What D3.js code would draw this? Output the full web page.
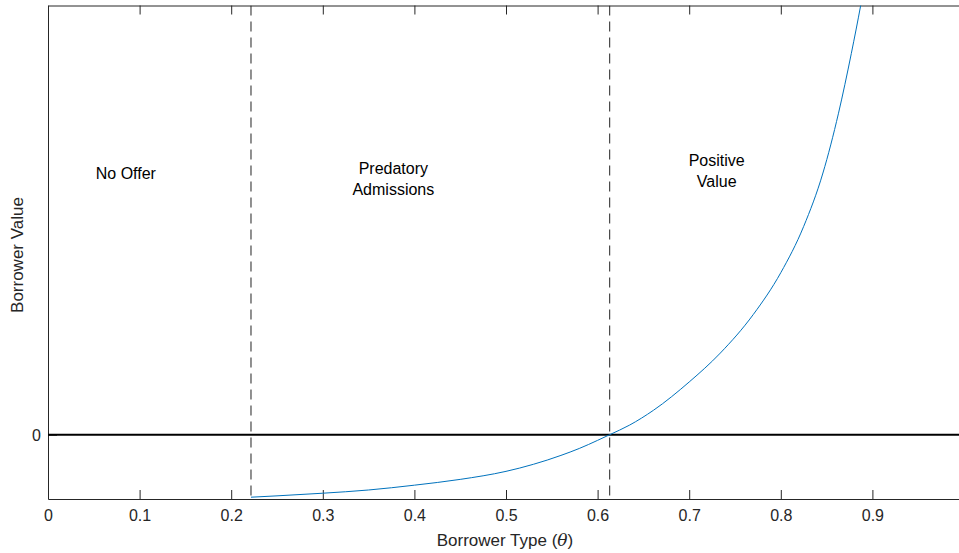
<!DOCTYPE html>
<html>
<head>
<meta charset="utf-8">
<script src="https://cdn.jsdelivr.net/npm/d3@7"></script>
<style>
  body { margin: 0; background: #fff; }
  svg { display: block; font-family: "Liberation Sans", Arial, Helvetica, sans-serif; }
</style>
</head>
<body>
<div id="chart"></div>
<script>
// borrower value curve
var theta = [0.2216, 0.25, 0.30, 0.35, 0.40, 0.45, 0.50, 0.53, 0.56, 0.58, 0.60, 0.6132,
             0.635, 0.661, 0.70, 0.734, 0.77, 0.80, 0.825, 0.846, 0.863, 0.877, 0.8872, 0.892];
var value = [-0.972, -0.951, -0.910, -0.860, -0.785, -0.695, -0.570, -0.460, -0.322, -0.214, -0.088, 0,
             0.150, 0.380, 0.820, 1.270, 1.870, 2.520, 3.240, 4.070, 5.000, 5.930, 6.675, 7.05];

var cutoffs = [0.2216, 0.6132];
var xTicks = [0, 0.1, 0.2, 0.3, 0.4, 0.5, 0.6, 0.7, 0.8, 0.9];
var yTicks = [0];
var regionLabels = [
  {x: 0.085, lines: ["No Offer"], y: 3.98},
  {x: 0.377, lines: ["Predatory", "Admissions"], y: 4.06},
  {x: 0.73, lines: ["Positive", "Value"], y: 4.18}
];

var W = 959, H = 553;
var plotLeft = 48, plotTop = 5.5, plotBottom = 499;

var x = d3.scaleLinear().domain([0, 1]).range([plotLeft, plotLeft + 916]);
var y = d3.scaleLinear().domain([-1, 6.675]).range([plotBottom, plotTop]);

var svg = d3.select("#chart").append("svg")
  .attr("width", W).attr("height", H);

svg.append("defs").append("clipPath").attr("id", "plot")
  .append("rect").attr("x", plotLeft).attr("y", plotTop)
  .attr("width", x(1) - plotLeft).attr("height", plotBottom - plotTop);

var axisColor = "#262626";

// x axis bottom
var xAxis = d3.axisBottom(x).tickValues(xTicks).tickSizeInner(-9).tickSizeOuter(0)
  .tickPadding(11).tickFormat(function(d) { return d === 0 ? "0" : d3.format(".1f")(d); });
var gx = svg.append("g").attr("transform", "translate(0," + plotBottom + ")").call(xAxis);

// x axis top (mirror ticks)
var gxt = svg.append("g").attr("transform", "translate(0," + plotTop + ")")
  .call(d3.axisTop(x).tickValues(xTicks).tickSizeInner(-9).tickSizeOuter(0).tickFormat(""));

// y axis
var gy = svg.append("g").attr("transform", "translate(" + plotLeft + ",0)")
  .call(d3.axisLeft(y).tickValues(yTicks).tickSizeInner(-9).tickSizeOuter(0).tickPadding(7));

[gx, gxt, gy].forEach(function(g) {
  g.select(".domain").attr("stroke", axisColor).attr("stroke-width", 1);
  g.selectAll(".tick line").attr("stroke", axisColor).attr("stroke-width", 1);
  g.selectAll(".tick text").attr("fill", axisColor)
    .style("font-size", "16px").style("font-family", "Liberation Sans, Arial, sans-serif");
});
gy.selectAll(".tick text").attr("dy", "0.35em");

var plot = svg.append("g").attr("clip-path", "url(#plot)");

// zero line
plot.append("line")
  .attr("x1", plotLeft).attr("x2", W)
  .attr("y1", y(0)).attr("y2", y(0))
  .attr("stroke", "#000").attr("stroke-width", 2);

// cutoff dashed lines
plot.selectAll(".cut").data(cutoffs).enter().append("line")
  .attr("class", "cut")
  .attr("x1", function(d) { return x(d); }).attr("x2", function(d) { return x(d); })
  .attr("y1", plotTop).attr("y2", plotBottom)
  .attr("stroke", "#222").attr("stroke-width", 1)
  .attr("stroke-dasharray", "10,6");

// curve
var pts = theta.map(function(t, i) { return [t, value[i]]; });
var line = d3.line()
  .x(function(d) { return x(d[0]); })
  .y(function(d) { return y(d[1]); })
  .curve(d3.curveMonotoneX);

plot.append("path").datum(pts)
  .attr("d", line)
  .attr("fill", "none")
  .attr("stroke", "#0072BD")
  .attr("stroke-width", 1);

// region labels
regionLabels.forEach(function(r) {
  var t = svg.append("text")
    .attr("x", x(r.x)).attr("y", y(r.y))
    .attr("text-anchor", "middle")
    .style("font-size", "16px").attr("fill", "#000");
  r.lines.forEach(function(s, i) {
    t.append("tspan").attr("x", x(r.x)).attr("dy", i === 0 ? 0 : 21).text(s);
  });
});

// axis labels
var xl = svg.append("text")
  .attr("x", (plotLeft + x(1)) / 2 - 1).attr("y", 546)
  .attr("text-anchor", "middle")
  .attr("fill", axisColor)
  .style("font-size", "17px");
xl.append("tspan").text("Borrower Type (");
xl.append("tspan").style("font-family", "DejaVu Serif, Liberation Serif, serif")
  .style("font-style", "italic").text("\u03b8");
xl.append("tspan").text(")");

svg.append("text")
  .attr("transform", "translate(23," + 255 + ") rotate(-90)")
  .attr("text-anchor", "middle")
  .attr("fill", axisColor)
  .style("font-size", "17px")
  .text("Borrower Value");
</script>
</body>
</html>
